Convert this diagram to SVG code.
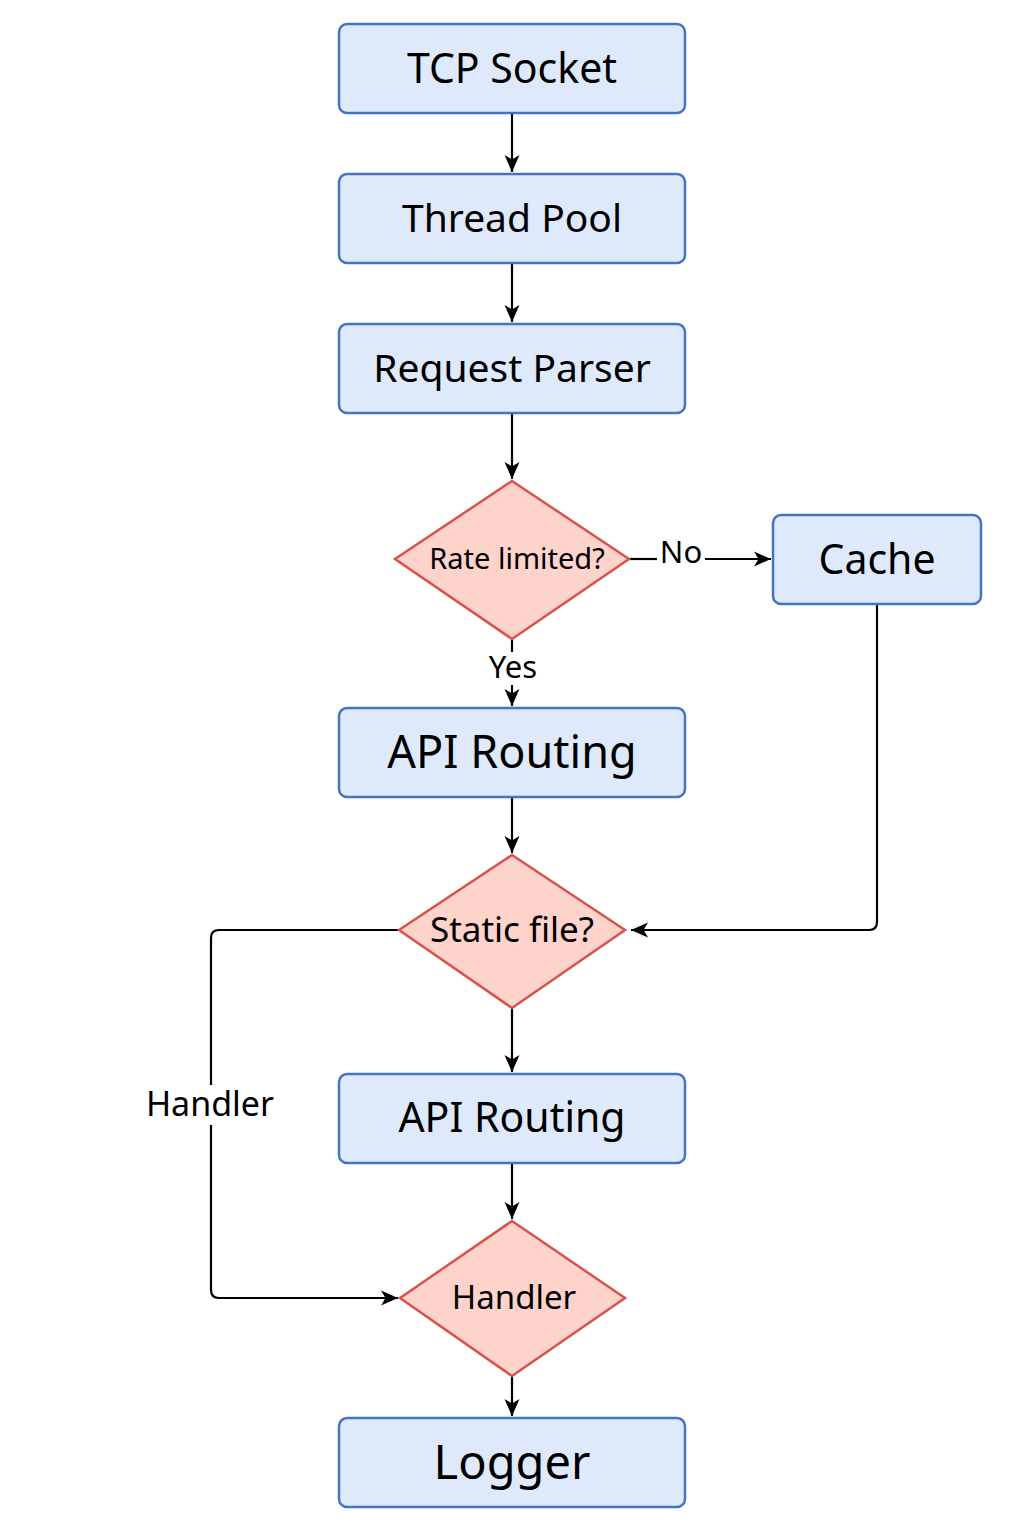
<svg xmlns="http://www.w3.org/2000/svg" width="1024" height="1536" viewBox="0 0 1024 1536">
<defs>
<marker id="ah" markerWidth="18" markerHeight="18" refX="17" refY="9" orient="auto" markerUnits="userSpaceOnUse">
<path d="M0,1.5 L17,9 L0,16.5 L4.5,9 Z" fill="#000"/>
</marker>
<style>
.box{fill:#deeafb;stroke:#4472c4;stroke-width:2.5}
.dia{fill:#fdd3cc;stroke:#d9534a;stroke-width:2.5}
.t{font-family:"Noto Sans","Liberation Sans",sans-serif;fill:#000;text-anchor:middle}
.c{fill:none;stroke:#000;stroke-width:2.2}
</style>
</defs>
<rect width="1024" height="1536" fill="#fff"/>
<g id="connectors">
<path class="c" d="M512,113 V172" marker-end="url(#ah)"/>
<path class="c" d="M512,263 V322" marker-end="url(#ah)"/>
<path class="c" d="M512,413 V479" marker-end="url(#ah)"/>
<path class="c" d="M629,559 H657"/>
<path class="c" d="M705,559 H771" marker-end="url(#ah)"/>
<text class="t" x="681" y="555" font-size="31" dominant-baseline="middle">No</text>
<path class="c" d="M512,639 V652"/>
<path class="c" d="M512,685 V706" marker-end="url(#ah)"/>
<text class="t" x="513" y="670" font-size="31" dominant-baseline="middle">Yes</text>
<path class="c" d="M877,604 V922 Q877,930 869,930 H631" marker-end="url(#ah)"/>
<path class="c" d="M512,797 V853" marker-end="url(#ah)"/>
<path class="c" d="M512,1008 V1072" marker-end="url(#ah)"/>
<path class="c" d="M399,930 H219 Q211,930 211,938 V1290 Q211,1298 219,1298 H398" marker-end="url(#ah)"/>
<rect x="142" y="1085" width="138" height="40" fill="#fff"/>
<text class="t" x="210" y="1107" font-size="34" dominant-baseline="middle">Handler</text>
<path class="c" d="M512,1163 V1219" marker-end="url(#ah)"/>
<path class="c" d="M512,1376 V1416" marker-end="url(#ah)"/>
</g>
<g id="tcp-socket">
<rect class="box" x="339" y="24" width="346" height="89" rx="8"/>
<text class="t" x="512" y="72" font-size="41" dominant-baseline="middle">TCP Socket</text>
</g>
<g id="thread-pool">
<rect class="box" x="339" y="174" width="346" height="89" rx="8"/>
<text class="t" x="512" y="222" font-size="39" dominant-baseline="middle">Thread Pool</text>
</g>
<g id="request-parser">
<rect class="box" x="339" y="324" width="346" height="89" rx="8"/>
<text class="t" x="512" y="372" font-size="39" dominant-baseline="middle">Request Parser</text>
</g>
<g id="rate-limited">
<polygon class="dia" points="512,481 629,559 512,639 395,559"/>
<text class="t" x="517" y="561" font-size="29" dominant-baseline="middle">Rate limited?</text>
</g>
<g id="cache">
<rect class="box" x="773" y="515" width="208" height="89" rx="8"/>
<text class="t" x="877" y="563" font-size="41" dominant-baseline="middle">Cache</text>
</g>
<g id="api-routing-1">
<rect class="box" x="339" y="708" width="346" height="89" rx="8"/>
<text class="t" x="512" y="756" font-size="45" dominant-baseline="middle">API Routing</text>
</g>
<g id="static-file">
<polygon class="dia" points="512,855 625,930 512,1008 399,930"/>
<text class="t" x="512" y="933" font-size="35" dominant-baseline="middle">Static file?</text>
</g>
<g id="api-routing-2">
<rect class="box" x="339" y="1074" width="346" height="89" rx="8"/>
<text class="t" x="512" y="1121" font-size="41" dominant-baseline="middle">API Routing</text>
</g>
<g id="handler">
<polygon class="dia" points="512,1221 625,1298 512,1376 400,1298"/>
<text class="t" x="514" y="1300" font-size="33" dominant-baseline="middle">Handler</text>
</g>
<g id="logger">
<rect class="box" x="339" y="1418" width="346" height="89" rx="8"/>
<text class="t" x="512" y="1466" font-size="47" dominant-baseline="middle">Logger</text>
</g>
</svg>
